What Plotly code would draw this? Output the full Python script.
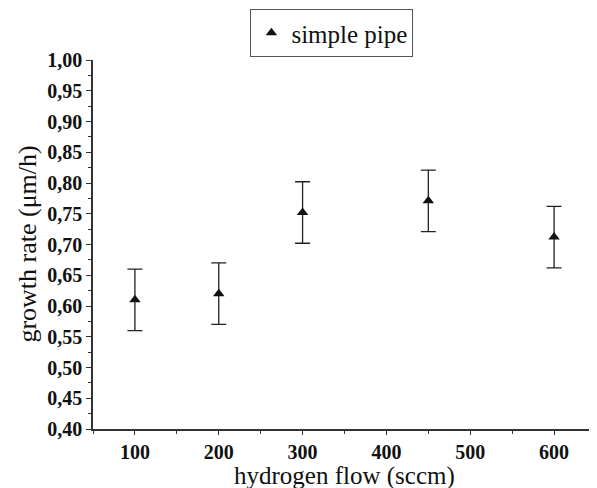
import plotly.graph_objects as go

flow = [100, 200, 300, 450, 600]
rate = [0.61, 0.62, 0.752, 0.771, 0.712]
err = [0.05, 0.05, 0.05, 0.05, 0.05]
xticks = [100, 200, 300, 400, 500, 600]
yticks = [0.40, 0.45, 0.50, 0.55, 0.60, 0.65, 0.70, 0.75, 0.80, 0.85, 0.90, 0.95, 1.00]
ytick_labels = [f"{v:.2f}".replace(".", ",") for v in yticks]

fig = go.Figure()
fig.add_trace(go.Scatter(
    x=flow, y=rate, mode="markers", name="simple pipe",
    marker=dict(symbol="triangle-up", size=10, color="#111"),
    error_y=dict(type="data", array=err, visible=True, color="#222", thickness=1.3, width=7.5),
))

serif = "'Liberation Serif', 'Times New Roman', serif"
fig.update_layout(
    width=589, height=480,
    margin=dict(l=85, r=1, t=52, b=59, autoexpand=False),
    paper_bgcolor="white", plot_bgcolor="white",
    font=dict(family=serif, color="#111"),
    showlegend=True,
    legend=dict(x=0.475, y=1.138, xanchor="center", yanchor="top",
                bordercolor="#555", borderwidth=1, font=dict(size=25, family=serif),
                itemwidth=30, tracegroupgap=0),
    xaxis=dict(range=[50, 650], tickvals=xticks, showgrid=False, zeroline=False,
               showline=True, linecolor="#333", linewidth=1.5,
               ticks="outside", ticklen=4, tickwidth=1.3, tickcolor="#333",
               minor=dict(dtick=50, tick0=50, ticks="outside", ticklen=3, tickcolor="#333"),
               tickfont=dict(size=20, family=serif, weight="bold")),
    yaxis=dict(range=[0.40, 1.00], tickvals=yticks, ticktext=ytick_labels,
               showgrid=False, zeroline=False,
               showline=True, linecolor="#333", linewidth=1.5,
               ticks="outside", ticklen=5, tickwidth=1.3, tickcolor="#333",
               minor=dict(dtick=0.025, tick0=0.4, ticks="outside", ticklen=3, tickcolor="#333"),
               tickfont=dict(size=20, family=serif, weight="bold")),
    annotations=[
        dict(text="hydrogen flow (sccm)", xref="paper", yref="paper", x=0.5, y=-0.128,
             xanchor="center", yanchor="middle", showarrow=False,
             font=dict(size=25, family=serif, color="#111")),
        dict(text="growth rate (μm/h)", xref="paper", yref="paper", x=-0.131, y=0.5,
             xanchor="center", yanchor="middle", showarrow=False, textangle=-90,
             font=dict(size=26, family=serif, color="#111")),
    ],
)

fig.write_html("out.html")
